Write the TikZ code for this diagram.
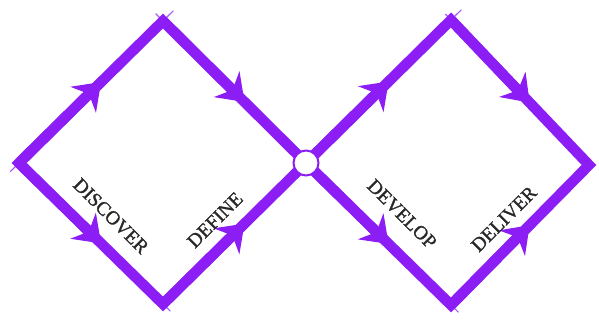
\documentclass[tikz,border=0pt]{standalone}
\usepackage{fontspec}
\setmainfont{Liberation Serif}
\newfontfamily\phasefont[FakeBold=1.2]{Liberation Serif}
\usetikzlibrary{arrows.meta,calc}
\definecolor{dvpurple}{RGB}{140,30,245}
\definecolor{dvtext}{RGB}{40,40,40}
\tikzset{
  edgeline/.style={draw=dvpurple, line width=10.5pt, line join=miter},
  arrowmark/.style={draw=dvpurple, line width=10.5pt, -{Stealth[length=25pt,width=36pt,inset=8pt]}},
  overshoot/.style={draw=dvpurple, line width=1.2pt, line cap=round, opacity=0.75},
  phase/.style={text=dvtext, font=\phasefont\fontsize{19.5}{19.5}\selectfont, inner sep=0pt},
  hub/.style={circle, draw=dvpurple, line width=2pt, fill=white, minimum size=25pt, inner sep=0pt}
}
\begin{document}
\begin{tikzpicture}[x=1pt,y=1pt]
\useasboundingbox (0,0) rectangle (599,321);
\coordinate (L) at (19,158);
\coordinate (T1) at (163,300);
\coordinate (B1) at (163,17);
\coordinate (C) at (306,158);
\coordinate (T2) at (451,301);
\coordinate (B2) at (451,16);
\coordinate (R) at (589,156);
% diamonds
\path[edgeline] (L) -- (T1) -- (C) -- (B1) -- cycle;
\path[edgeline] (C) -- (T2) -- (R) -- (B2) -- cycle;
% brush overshoots at the corners
\draw[overshoot] ($(L)!-0.06!(T1)$) -- (L);
\draw[overshoot] ($(T1)!-0.07!(L)$) -- (T1);
\draw[overshoot] ($(T1)!-0.05!(C)$) -- (T1);
\draw[overshoot] ($(B1)!-0.05!(L)$) -- (B1);
\draw[overshoot] ($(T2)!-0.07!(C)$) -- (T2);
\draw[overshoot] ($(T2)!-0.04!(R)$) -- (T2);
\draw[overshoot] ($(B2)!-0.05!(C)$) -- (B2);
% arrows
\draw[arrowmark] (L) -- ($(L)!0.57!(T1)$);
\draw[arrowmark] (T1) -- ($(T1)!0.57!(C)$);
\draw[arrowmark] (L) -- ($(L)!0.57!(B1)$);
\draw[arrowmark] (B1) -- ($(B1)!0.57!(C)$);
\draw[arrowmark] (C) -- ($(C)!0.57!(T2)$);
\draw[arrowmark] (T2) -- ($(T2)!0.57!(R)$);
\draw[arrowmark] (C) -- ($(C)!0.57!(B2)$);
\draw[arrowmark] (B2) -- ($(B2)!0.57!(R)$);
% hub
\node[hub] (hub) at (C) {};
% labels
\node[phase, rotate=-45] (discover) at (111,105) {DISCOVER};
\node[phase, rotate=45] (define) at (215,101) {DEFINE};
\node[phase, rotate=-45] (develop) at (402,107) {DEVELOP};
\node[phase, rotate=45] (deliver) at (504,102) {DELIVER};
\end{tikzpicture}
\end{document}
